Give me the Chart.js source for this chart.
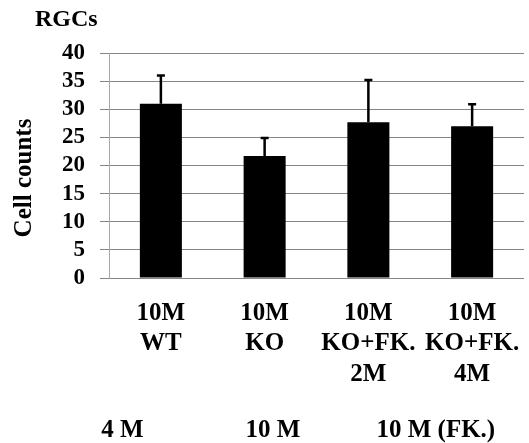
<!DOCTYPE html>
<html>
<head>
<meta charset="utf-8">
<script src="https://cdn.jsdelivr.net/npm/chart.js@4/dist/chart.umd.min.js"></script>
<style>
  html, body { margin: 0; padding: 0; background: #fff; }
  #wrap { width: 529px; height: 443px; }
</style>
</head>
<body>
<div id="wrap"><canvas id="grafico"></canvas></div>
<script>
  // dados
  const grupos = [["10M", "WT"], ["10M", "KO"], ["10M", "KO+FK.", "2M"], ["10M", "KO+FK.", "4M"]];
  const contagens = [31, 21.7, 27.7, 27.0];
  const erros = [5.0, 3.2, 7.5, 3.9];
  const yTicks = [0, 5, 10, 15, 20, 25, 30, 35, 40];
  const idades = ["4 M", "10 M", "10 M (FK.)"];

  const FONTE = "'Liberation Serif', 'Times New Roman', serif";

  // barras de erro (só para cima) + textos extras
  const extras = {
    id: "extras",
    afterDatasetsDraw(chart) {
      const { ctx, scales } = chart;
      const meta = chart.getDatasetMeta(0);
      ctx.save();
      ctx.strokeStyle = "#000";
      ctx.lineWidth = 2.5;
      meta.data.forEach((bar, i) => {
        const yTop = scales.y.getPixelForValue(contagens[i] + erros[i]);
        const yBar = scales.y.getPixelForValue(contagens[i]);
        ctx.beginPath();
        ctx.moveTo(bar.x, yBar);
        ctx.lineTo(bar.x, yTop);
        ctx.moveTo(bar.x - 4, yTop);
        ctx.lineTo(bar.x + 4, yTop);
        ctx.stroke();
      });
      ctx.restore();
    },
    afterDraw(chart) {
      const { ctx, scales, chartArea } = chart;
      ctx.save();
      ctx.fillStyle = "#000";
      ctx.textBaseline = "middle";
      ctx.font = "bold 24px " + FONTE;
      ctx.textAlign = "left";
      ctx.fillText("RGCs", 35, 20);
      // rótulos de idade embaixo
      const posicoes = [-0.37, 1.08, 2.65];
      ctx.font = "bold 25px " + FONTE;
      ctx.textAlign = "center";
      idades.forEach((t, i) => {
        ctx.fillText(t, scales.x.getPixelForValue(posicoes[i]), chartArea.bottom + 153);
      });
      ctx.restore();
    }
  };

  new Chart(document.getElementById("grafico"), {
    type: "bar",
    data: {
      labels: grupos,
      datasets: [{
        data: contagens,
        backgroundColor: "#000",
        borderWidth: 0,
        barPercentage: 0.405,
        categoryPercentage: 1
      }]
    },
    options: {
      responsive: true,
      maintainAspectRatio: false,
      animation: false,
      layout: { padding: { top: 53, right: 5, bottom: 52, left: 0 } },
      plugins: {
        legend: { display: false },
        tooltip: { enabled: false }
      },
      scales: {
        x: {
          afterFit(scale) {
            scale.height = 113;
            scale.paddingLeft = 0;
            scale.paddingRight = 0;
          },
          grid: { display: false },
          border: { display: false },
          ticks: {
            color: "#000",
            padding: 12,
            maxRotation: 0,
            autoSkip: false,
            font: { family: FONTE, size: 25, weight: "bold", lineHeight: 1.22 }
          }
        },
        y: {
          min: 0,
          max: 40,
          afterFit(scale) {
            scale.width = 109;
            scale.paddingTop = 0;
            scale.paddingBottom = 0;
          },
          afterBuildTicks(scale) { scale.ticks = yTicks.map(v => ({ value: v })); },
          grid: { color: "#858585", tickColor: "#858585", tickLength: 9, lineWidth: 1 },
          border: { color: "#a8a8a8", width: 1 },
          ticks: {
            color: "#000",
            padding: 15,
            autoSkip: false,
            font: { family: FONTE, size: 23, weight: "bold" }
          },
          title: {
            display: true,
            text: "Cell counts    ",
            color: "#000",
            padding: { top: 10, bottom: 0 },
            font: { family: FONTE, size: 25, weight: "bold" }
          }
        }
      }
    },
    plugins: [extras]
  });
</script>
</body>
</html>
